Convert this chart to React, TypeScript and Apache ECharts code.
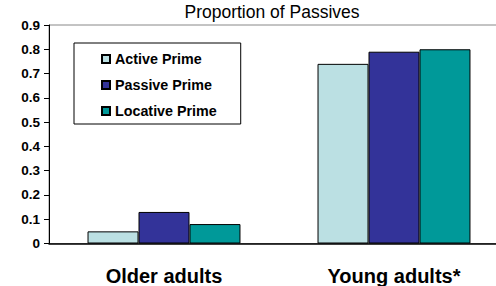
import React, { useEffect, useRef } from "react";
import * as echarts from "echarts";

const categories = ["Older adults", "Young adults*"];
const seriesNames = ["Active Prime", "Passive Prime", "Locative Prime"];
const activePrime = [0.05, 0.74];
const passivePrime = [0.13, 0.79];
const locativePrime = [0.08, 0.8];
const colors = ["#BBE0E3", "#333399", "#009999"];
const chartTitle = "Proportion of Passives";

export default function App() {
  const ref = useRef<HTMLDivElement>(null);
  useEffect(() => {
    if (!ref.current) return;
    const chart = echarts.init(ref.current, null, { renderer: "svg" });
    const font = "'Liberation Sans', Arial, sans-serif";
    const values = [activePrime, passivePrime, locativePrime];
    chart.setOption({
      animation: false,
      backgroundColor: "#ffffff",
      textStyle: { fontFamily: font },
      title: {
        text: chartTitle,
        left: 272,
        top: 3,
        textAlign: "center",
        padding: 0,
        textStyle: { fontFamily: font, fontSize: 17.5, fontWeight: "normal", color: "#000" },
      },
      legend: {
        orient: "vertical",
        left: 74,
        top: 43,
        padding: [8, 24, 5, 27],
        itemGap: 10,
        itemWidth: 8,
        itemHeight: 8,
        icon: "rect",
        borderColor: "#000",
        borderWidth: 1,
        backgroundColor: "#fff",
        textStyle: { fontFamily: font, fontSize: 14.3, fontWeight: "bold", color: "#000", lineHeight: 16 },
        data: seriesNames,
      },
      grid: {
        left: 49,
        top: 25,
        bottom: 42.5,
        right: 11,
        show: true,
        borderColor: "#888",
        borderWidth: 1,
        backgroundColor: "transparent",
      },
      xAxis: {
        type: "category",
        data: categories,
        axisLine: { show: true, lineStyle: { color: "#000", width: 1.5 } },
        axisTick: { show: false },
        axisLabel: { fontFamily: font, fontSize: 20, fontWeight: "bold", color: "#000", margin: 22 },
      },
      yAxis: {
        type: "value",
        min: 0,
        max: 0.9,
        interval: 0.1,
        axisLine: { show: true, lineStyle: { color: "#000", width: 1 } },
        axisTick: { show: true, length: 5, lineStyle: { color: "#000" } },
        splitLine: { show: false },
        axisLabel: {
          fontFamily: font,
          fontSize: 13.5,
          fontWeight: "bold",
          color: "#000",
          margin: 9,
          formatter: (v: number) => (v === 0 ? "0" : v.toFixed(1)),
        },
      },
      series: seriesNames.map((name, i) => ({
        name,
        type: "bar",
        data: values[i],
        barGap: "0%",
        barCategoryGap: "33.5%",
        itemStyle: { color: colors[i], borderColor: "#000", borderWidth: 1 },
      })),
    });
    return () => chart.dispose();
  }, []);
  return (
    <div style={{ width: 496, height: 286, position: "absolute", left: 0, top: 0, overflow: "hidden" }}>
      <div ref={ref} style={{ width: 520, height: 286 }} />
    </div>
  );
}
